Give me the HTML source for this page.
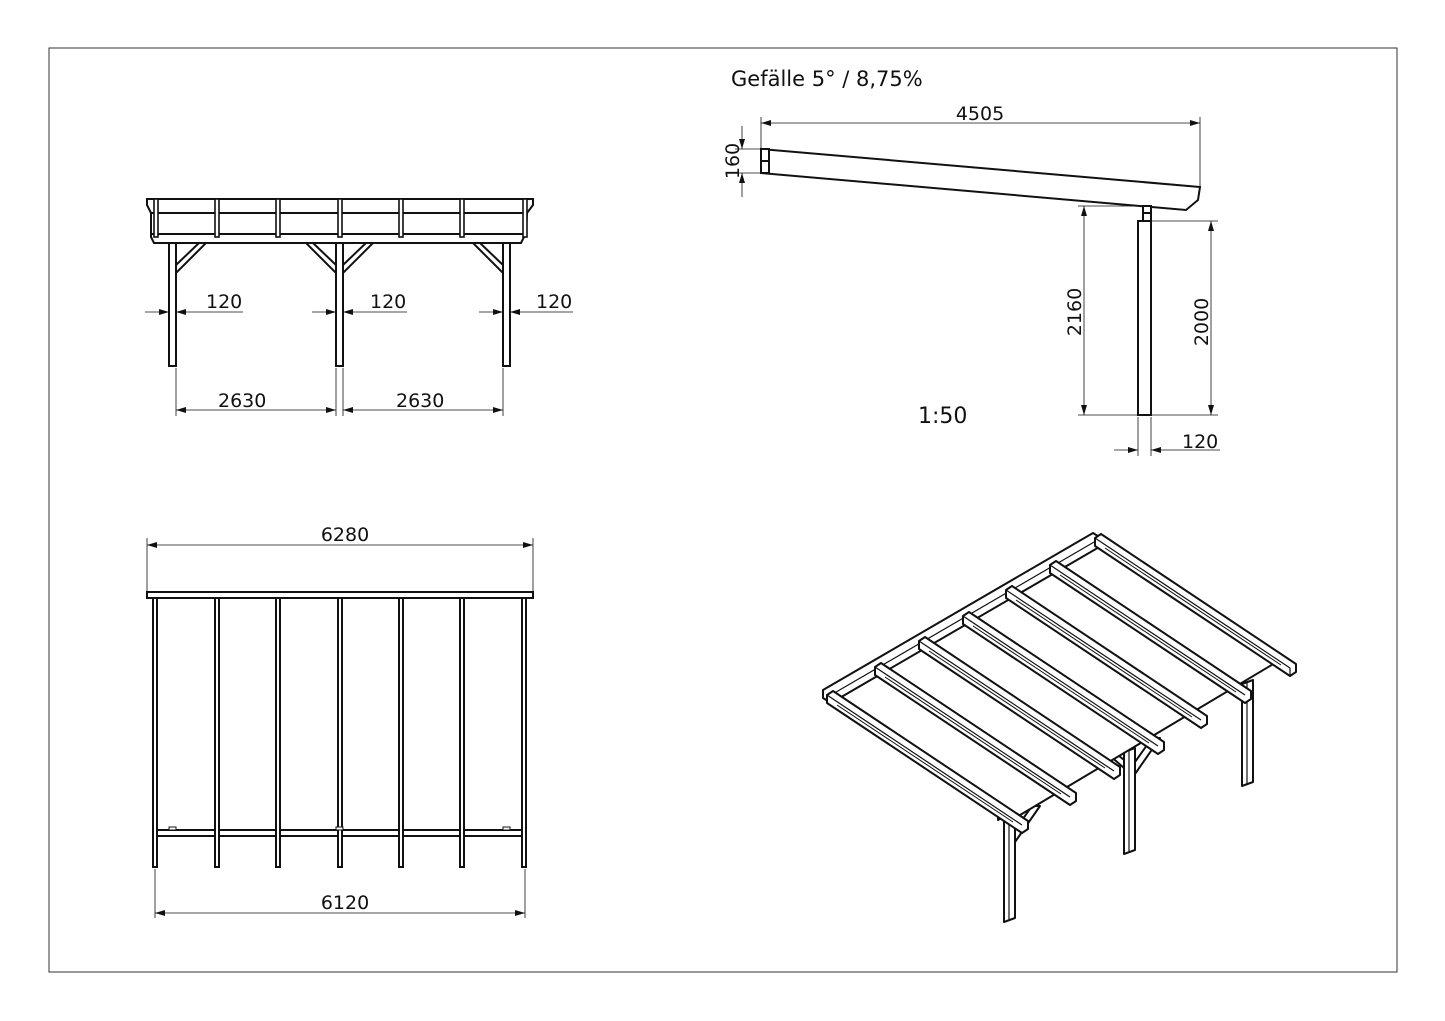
<!DOCTYPE html>
<html><head><meta charset="utf-8"><style>
html,body{margin:0;padding:0;background:#fff;}
svg{display:block;}
text{font-family:"DejaVu Sans","Liberation Sans",sans-serif;fill:#111;}
</style></head><body>
<svg width="1445" height="1021" viewBox="0 0 1445 1021" xmlns="http://www.w3.org/2000/svg">
<defs>
<marker id="a" viewBox="0 0 10 6" refX="10" refY="3" markerWidth="10" markerHeight="6" markerUnits="userSpaceOnUse" orient="auto-start-reverse"><path d="M0,0 L10,3 L0,6 z" fill="#111"/></marker>
</defs>
<rect x="49" y="48" width="1348" height="924" fill="none" stroke="#333" stroke-width="1"/>

<!-- FRONT VIEW -->
<g stroke="#111" stroke-width="2" fill="#fff">
<polygon points="147,199 533,199 533,205 527,213 526,233 521,243 154,243 151,237 151,213 147,205"/>
<line x1="151" y1="213" x2="527" y2="213"/>
<line x1="151" y1="234" x2="526" y2="234"/>
<g stroke-width="1.6">
<rect x="154" y="199" width="4" height="38"/><rect x="215" y="199" width="4" height="38"/><rect x="276" y="199" width="4" height="38"/><rect x="338" y="199" width="4" height="38"/><rect x="399" y="199" width="4" height="38"/><rect x="460" y="199" width="4" height="38"/><rect x="523" y="199" width="4" height="38"/>
</g>
<rect x="169" y="243" width="7" height="123"/>
<rect x="336" y="243" width="7" height="123"/>
<rect x="503" y="243" width="7" height="123"/>
<polygon points="176,265 199,243 206,243 176,273"/>
<polygon points="336,265 313,243 306,243 336,273"/>
<polygon points="343,265 366,243 373,243 343,273"/>
<polygon points="503,265 480,243 473,243 503,273"/>
</g>
<g stroke="#111" stroke-width="0.8" fill="none">
<line x1="145" y1="312" x2="169" y2="312" marker-end="url(#a)"/><line x1="243" y1="312" x2="176" y2="312" marker-end="url(#a)"/>
<line x1="312" y1="312" x2="336" y2="312" marker-end="url(#a)"/><line x1="407" y1="312" x2="343" y2="312" marker-end="url(#a)"/>
<line x1="479" y1="312" x2="503" y2="312" marker-end="url(#a)"/><line x1="573" y1="312" x2="510" y2="312" marker-end="url(#a)"/>
<line x1="176" y1="368" x2="176" y2="416"/><line x1="336" y1="368" x2="336" y2="416"/><line x1="343" y1="368" x2="343" y2="416"/><line x1="503" y1="368" x2="503" y2="416"/>
<line x1="176" y1="410" x2="336" y2="410" marker-start="url(#a)" marker-end="url(#a)"/>
<line x1="343" y1="410" x2="503" y2="410" marker-start="url(#a)" marker-end="url(#a)"/>
</g>
<g font-size="19">
<text x="206" y="308">120</text><text x="370" y="308">120</text><text x="536" y="308">120</text>
<text x="218" y="407">2630</text><text x="396" y="407">2630</text>
</g>

<!-- SIDE VIEW -->
<text x="731" y="86" font-size="21">Gefälle 5° / 8,75%</text>
<g stroke="#111" stroke-width="2" fill="#fff">
<polygon points="761,149 1200,187 1198,200 1186,210 761,173"/>
<rect x="761" y="149" width="8" height="24"/>
<line x1="761" y1="161" x2="769" y2="161"/>
<rect x="1138" y="221" width="13" height="194"/>
<rect x="1143" y="206" width="8" height="15"/>
<line x1="1143" y1="213" x2="1151" y2="213"/>
</g>
<g stroke="#111" stroke-width="0.8" fill="none">
<line x1="761" y1="117" x2="761" y2="149"/><line x1="1200" y1="117" x2="1200" y2="186"/>
<line x1="761" y1="123" x2="1200" y2="123" marker-start="url(#a)" marker-end="url(#a)"/>
<line x1="735" y1="149" x2="761" y2="149"/><line x1="735" y1="173" x2="761" y2="173"/>
<line x1="742" y1="126" x2="742" y2="149" marker-end="url(#a)"/><line x1="742" y1="197" x2="742" y2="173" marker-end="url(#a)"/>
<line x1="1078" y1="206" x2="1143" y2="206"/><line x1="1078" y1="415" x2="1138" y2="415"/>
<line x1="1084" y1="206" x2="1084" y2="415" marker-start="url(#a)" marker-end="url(#a)"/>
<line x1="1151" y1="221" x2="1218" y2="221"/><line x1="1151" y1="415" x2="1218" y2="415"/>
<line x1="1211" y1="221" x2="1211" y2="415" marker-start="url(#a)" marker-end="url(#a)"/>
<line x1="1138" y1="417" x2="1138" y2="456"/><line x1="1151" y1="417" x2="1151" y2="456"/>
<line x1="1114" y1="450" x2="1138" y2="450" marker-end="url(#a)"/><line x1="1220" y1="450" x2="1151" y2="450" marker-end="url(#a)"/>
</g>
<text x="980" y="120" font-size="19" text-anchor="middle">4505</text>
<text transform="translate(739,161) rotate(-90)" font-size="19" text-anchor="middle">160</text>
<text transform="translate(1081,312) rotate(-90)" font-size="19" text-anchor="middle">2160</text>
<text transform="translate(1208,322) rotate(-90)" font-size="19" text-anchor="middle">2000</text>
<text x="1182" y="448" font-size="19">120</text>
<text x="918" y="423" font-size="22">1:50</text>

<!-- PLAN VIEW -->
<g stroke="#111" stroke-width="0.8" fill="none">
<line x1="147" y1="538" x2="147" y2="597"/><line x1="533" y1="538" x2="533" y2="597"/>
<line x1="147" y1="545" x2="533" y2="545" marker-start="url(#a)" marker-end="url(#a)"/>
<line x1="155" y1="869" x2="155" y2="918"/><line x1="525" y1="869" x2="525" y2="918"/>
<line x1="155" y1="913" x2="525" y2="913" marker-start="url(#a)" marker-end="url(#a)"/>
</g>
<text x="345" y="541" font-size="19" text-anchor="middle">6280</text>
<text x="345" y="909" font-size="19" text-anchor="middle">6120</text>
<g stroke="#111" stroke-width="2" fill="#fff">
<rect x="156" y="830" width="368" height="6"/>
<rect x="147" y="592" width="386" height="6"/>
<rect x="153" y="598" width="4" height="269"/><rect x="215" y="598" width="4" height="269"/><rect x="276" y="598" width="4" height="269"/><rect x="338" y="598" width="4" height="269"/><rect x="399" y="598" width="4" height="269"/><rect x="460" y="598" width="4" height="269"/><rect x="522" y="598" width="4" height="269"/>
<rect x="169" y="827" width="7" height="3" stroke-width="1"/><rect x="336" y="827" width="7" height="3" stroke-width="1"/><rect x="503" y="827" width="7" height="3" stroke-width="1"/>
</g>

<!-- ISOMETRIC -->
<g stroke="#111" stroke-width="2" fill="#fff" stroke-linejoin="round">
<polygon points="1004,820 1015,816 1015,918 1004,922"/>
<line x1="1009" y1="818" x2="1009" y2="920" stroke-width="1.2"/>
<polygon points="1124,752 1135,748 1135,850 1124,854"/>
<line x1="1129" y1="750" x2="1129" y2="852" stroke-width="1.2"/>
<polygon points="1242,684 1253,680 1253,782 1242,786"/>
<line x1="1247" y1="682" x2="1247" y2="784" stroke-width="1.2"/>
<polygon points="998,812 1262,662 1262,670 998,820"/>
<polygon points="1015,830 1032,806 1040,806 1015,842"/>
<polygon points="1135,762 1152,738 1160,738 1135,774"/>
<polygon points="1124,768 1108,754 1112,750 1124,760"/>
<polygon points="833,700 1101,542 1280,660 1015,818"/>
<polygon points="823,690 1093,533 1101,538 1101,546 831,703 823,698"/>
<line x1="831" y1="695" x2="1101" y2="538" stroke-width="1.2"/>
</g>
<g stroke="#111" stroke-width="2" fill="#fff" stroke-linejoin="round">
<polygon points="1095,538 1101,534 1296,664 1296,672 1290,676 1095,546"/><line x1="1095" y1="538" x2="1290" y2="668" stroke-width="1.2"/><line x1="1290" y1="668" x2="1290" y2="676" stroke-width="1.2"/>
<polygon points="1050,565 1056,561 1251,691 1251,699 1245,703 1050,573"/><line x1="1050" y1="565" x2="1245" y2="695" stroke-width="1.2"/><line x1="1060" y1="575" x2="1236" y2="692" stroke-width="1"/>
<polygon points="1006,590 1012,586 1207,716 1207,724 1201,728 1006,598"/><line x1="1006" y1="590" x2="1201" y2="720" stroke-width="1.2"/><line x1="1016" y1="600" x2="1192" y2="717" stroke-width="1"/>
<polygon points="963,616 969,612 1164,742 1164,750 1158,754 963,624"/><line x1="963" y1="616" x2="1158" y2="746" stroke-width="1.2"/><line x1="973" y1="626" x2="1149" y2="743" stroke-width="1"/>
<polygon points="919,641 925,637 1120,767 1120,775 1114,779 919,649"/><line x1="919" y1="641" x2="1114" y2="771" stroke-width="1.2"/><line x1="929" y1="651" x2="1105" y2="768" stroke-width="1"/>
<polygon points="875,667 881,663 1076,793 1076,801 1070,805 875,675"/><line x1="875" y1="667" x2="1070" y2="797" stroke-width="1.2"/><line x1="885" y1="677" x2="1061" y2="794" stroke-width="1"/>
<polygon points="827,695 833,691 1028,821 1028,829 1022,833 827,703"/><line x1="827" y1="695" x2="1022" y2="825" stroke-width="1.2"/><line x1="837" y1="705" x2="1013" y2="822" stroke-width="1"/>
<line x1="1105" y1="548" x2="1281" y2="665" stroke-width="1"/>
</g>
</svg>
</body></html>
